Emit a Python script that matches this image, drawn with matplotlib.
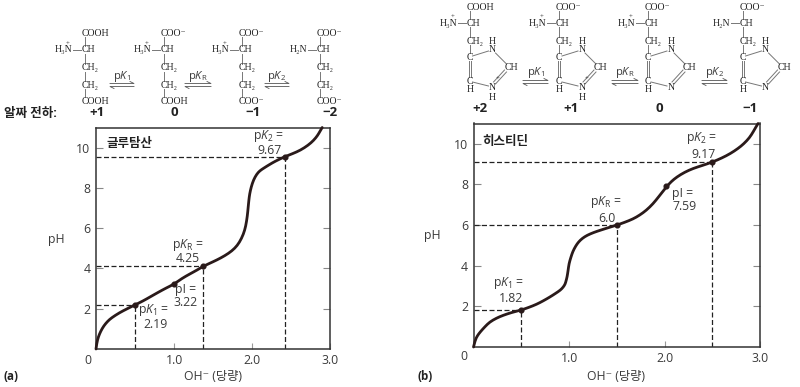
import matplotlib
matplotlib.use('Agg')
import matplotlib.pyplot as plt
from matplotlib.path import Path
from matplotlib.patches import PathPatch

plt.rcParams['font.family'] = ['Open Sans', 'Noto Sans CJK KR', 'DejaVu Sans']
plt.rcParams['mathtext.fontset'] = 'custom'
plt.rcParams['mathtext.rm'] = 'Open Sans'
plt.rcParams['mathtext.it'] = 'Open Sans:italic'

# titration curves
glu_x = [0, 0.01, 0.03, 0.06, 0.1, 0.15, 0.2, 0.3, 0.4, 0.5, 0.6, 0.7, 0.8, 0.9, 1.0, 1.1, 1.2, 1.3, 1.37, 1.5,
         1.6, 1.7, 1.78, 1.84, 1.89, 1.92, 1.94, 1.95, 1.96, 1.97, 1.99, 2.02, 2.06, 2.1, 2.15, 2.22, 2.3, 2.42,
         2.52, 2.62, 2.72, 2.79, 2.84, 2.87, 2.9]
glu_ph = [0, 0.3, 0.6, 0.88, 1.15, 1.38, 1.55, 1.8, 2.0, 2.19, 2.38, 2.6, 2.82, 3.03, 3.22, 3.5, 3.72, 3.93, 4.1,
          4.33, 4.52, 4.75, 5.0, 5.3, 5.7, 6.1, 6.6, 7.0, 7.4, 7.7, 8.05, 8.4, 8.68, 8.85, 8.98, 9.15, 9.33, 9.55,
          9.7, 9.87, 10.12, 10.36, 10.6, 10.8, 11.0]
his_x = [0, 0.017, 0.04, 0.07, 0.12, 0.17, 0.24, 0.31, 0.4, 0.5, 0.58, 0.66, 0.73, 0.8, 0.86, 0.91, 0.94, 0.96,
         0.97, 0.98, 0.99, 1.0, 1.02, 1.04, 1.07, 1.1, 1.14, 1.19, 1.26, 1.33, 1.41, 1.5, 1.58, 1.67, 1.74, 1.81,
         1.88, 1.94, 2.02, 2.07, 2.13, 2.21, 2.3, 2.4, 2.5, 2.6, 2.69, 2.77, 2.83, 2.89, 2.93, 2.96, 2.98]
his_ph = [0, 0.33, 0.55, 0.74, 1.0, 1.23, 1.42, 1.56, 1.7, 1.82, 1.95, 2.1, 2.27, 2.46, 2.64, 2.8, 2.95, 3.1,
          3.27, 3.45, 3.75, 4.1, 4.42, 4.7, 4.97, 5.17, 5.35, 5.5, 5.64, 5.75, 5.87, 6.0, 6.13, 6.3, 6.49, 6.73,
          7.05, 7.4, 7.88, 8.14, 8.37, 8.6, 8.79, 8.94, 9.1, 9.3, 9.52, 9.77, 10.0, 10.3, 10.6, 10.85, 11.0]

# points on the curves (x, pH) with dashed guides
glu_guides = [(0.5, 2.19), (1.37, 4.1), (2.42, 9.55)]
glu_pi = (1.0, 3.22)
his_guides = [(0.5, 1.82), (1.5, 6.0), (2.5, 9.12)]
his_pi = (2.02, 7.9)

x_ticks = [1.0, 2.0, 3.0]
x_labels = ['1.0', '2.0', '3.0']
y_ticks = [2, 4, 6, 8, 10]

W, H = 800, 387
fig = plt.figure(figsize=(W / 100, H / 100), dpi=100)

TXT = '#3a3a3a'
CURVE = '#2a1a1a'
SERIF = ['Liberation Serif', 'DejaVu Serif']
TICK_SIZE = 8.8


def smooth_curve(ax, x, y):
    # quadratic segments through the midpoints, so the read points do not show as corners
    verts = [(x[0], y[0])]
    codes = [Path.MOVETO]
    for i in range(1, len(x) - 1):
        verts += [(x[i], y[i]), ((x[i] + x[i + 1]) / 2, (y[i] + y[i + 1]) / 2)]
        codes += [Path.CURVE3, Path.CURVE3]
    verts.append((x[-1], y[-1]))
    codes.append(Path.LINETO)
    ax.add_patch(PathPatch(Path(verts, codes), fc='none', ec=CURVE, lw=2.0, capstyle='round',
                           joinstyle='round', clip_on=False, zorder=3))


def make_axes(left, right, top, bottom, x, y, guides, pi):
    ax = fig.add_axes([left / W, 1 - bottom / H, (right - left) / W, (bottom - top) / H])
    smooth_curve(ax, x, y)
    for gx, gy in guides:
        ax.plot([0, gx], [gy, gy], color='#222222', lw=0.9, ls=(0, (4, 2)))
        ax.plot([gx, gx], [0, gy], color='#222222', lw=0.9, ls=(0, (4, 2)))
    px = [g[0] for g in guides] + [pi[0]]
    py = [g[1] for g in guides] + [pi[1]]
    ax.plot(px, py, 'o', color=CURVE, ms=3.4, zorder=4)
    ax.set_xlim(0, 3)
    ax.set_ylim(0, 11)
    ax.set_xticks(x_ticks, x_labels)
    ax.set_yticks(y_ticks)
    ax.tick_params(axis='x', direction='in', length=4, width=0.8, color='#999999', labelsize=TICK_SIZE,
                   labelcolor=TXT, pad=3.5)
    ax.tick_params(axis='y', direction='in', length=5, width=0.8, color='#888888', labelsize=TICK_SIZE,
                   labelcolor=TXT, right=True, pad=4)
    for s in ax.spines.values():
        s.set_linewidth(1.1)
        s.set_color('#333333')
    return ax


make_axes(96, 330, 127.5, 349, glu_x, glu_ph, glu_guides, glu_pi)
make_axes(473.5, 760, 123.5, 347, his_x, his_ph, his_guides, his_pi)

# overlay in pixel coordinates for the labels and the structures
ov = fig.add_axes([0, 0, 1, 1], facecolor='none')
ov.set_xlim(0, W)
ov.set_ylim(H, 0)
ov.axis('off')


def label(x, y, s, size=TICK_SIZE, ha='center', weight='normal', color=TXT):
    ov.text(x, y, s, fontsize=size, ha=ha, va='center', color=color, fontweight=weight)


# panel text
for x, y, s in [(88, 360, '0'), (56, 239, 'pH'), (213, 377, 'OH⁻ (당량)'),
                (464, 356, '0'), (432, 236, 'pH'), (616, 377, 'OH⁻ (당량)')]:
    label(x, y, s)
label(4, 377, '(a)', ha='left', weight='bold', color='#222222', size=8.3)
label(417, 377, '(b)', ha='left', weight='bold', color='#222222', size=8.3)
label(106, 143, '글루탐산', ha='left', weight='bold', color='#222222', size=9)
label(482, 141, '히스티딘', ha='left', weight='bold', color='#222222', size=9)
label(4, 114, '알짜 전하:', ha='left', weight='bold', color='#222222', size=9)

for x, y, s in [(269, 136, 'p$K_2$ ='), (269, 150, '9.67'), (188, 245, 'p$K_{\\mathrm{R}}$ ='), (188, 259, '4.25'),
                (186, 289, 'pI ='), (186, 302, '3.22'), (154, 310, 'p$K_1$ ='), (155, 324, '2.19'),
                (702, 138, 'p$K_2$ ='), (704, 154, '9.17'), (606, 202, 'p$K_{\\mathrm{R}}$ ='), (607, 218, '6.0'),
                (683, 193, 'pI ='), (685, 207, '7.59'), (509, 283, 'p$K_1$ ='), (511, 299, '1.82')]:
    label(x, y, s)

# net charges
for x, s in [(97, '+1'), (174, '0'), (253, '−1'), (330, '−2')]:
    label(x, 113, s, size=9.5, weight='bold', color='#222222')
for x, s in [(480, '+2'), (571, '+1'), (659, '0'), (750, '−1')]:
    label(x, 109, s, size=9.5, weight='bold', color='#222222')


def chem(x, y, s, ha='left'):
    ov.text(x, y, s, fontsize=7, family=SERIF, ha=ha, va='center', color='#222222')


def bond(x0, y0, x1, y1):
    ov.plot([x0, x1], [y0, y1], color='#777777', lw=0.7)


def equilibrium(x0, x1, y, s):
    ov.plot([x0, x1, x1 - 4], [y - 1.5, y - 1.5, y - 3.5], color='#555555', lw=0.6)
    ov.plot([x1, x0, x0 + 4], [y + 1.5, y + 1.5, y + 3.5], color='#555555', lw=0.6)
    label((x0 + x1) / 2, y - 9, s, size=8)


def amine(x, y, s, charged):
    chem(x - 9.5, y, s, ha='right')
    bond(x - 9, y, x - 1, y)
    chem(x, y, 'CH')
    if charged:
        ov.text(x - 14, y - 5.5, '+', fontsize=5, family=SERIF, ha='center', va='center', color='#222222')


# glutamate chain
glu_tops = ['COOH', 'COO⁻', 'COO⁻', 'COO⁻']
glu_ends = ['COOH', 'COOH', 'COO⁻', 'COO⁻']
glu_amine = ['H₃N', 'H₃N', 'H₃N', 'H₂N']
for col, top, end, am in zip([82, 161, 239, 317], glu_tops, glu_ends, glu_amine):
    chem(col, 33, top)
    amine(col, 50, am, am == 'H₃N')
    chem(col, 68, 'CH₂')
    chem(col, 85, 'CH₂')
    chem(col, 101, end)
    for y0, y1 in [(37, 46), (54, 64), (72, 81), (89, 97)]:
        bond(col + 3, y0, col + 3, y1)
for x0, x1, s in [(110, 134, 'p$K_1$'), (185, 211, 'p$K_{\\mathrm{R}}$'), (265, 289, 'p$K_2$')]:
    equilibrium(x0, x1, 85, s)

# histidine ring
his_tops = ['COOH', 'COO⁻', 'COO⁻', 'COO⁻']
his_amine = ['H₃N', 'H₃N', 'H₃N', 'H₂N']
his_protons = [True, True, False, False]
for col, top, am, charged_n in zip([466.5, 556, 645, 739.5], his_tops, his_amine, his_protons):
    chem(col, 7, top)
    amine(col, 23, am, am == 'H₃N')
    chem(col, 41, 'CH₂')
    chem(col, 57, 'C')
    chem(col, 81, 'C')
    chem(col, 90, 'H')
    chem(col + 26, 41, 'H', ha='center')
    chem(col + 26, 50, 'N', ha='center')
    chem(col + 38, 68, 'CH')
    chem(col + 26, 87, 'N', ha='center')
    for y0, y1 in [(11, 19), (27, 37), (45, 53)]:
        bond(col + 3, y0, col + 3, y1)
    bond(col + 2, 61, col + 2, 77)
    bond(col + 4, 61, col + 4, 77)
    bond(col + 6, 56, col + 22, 51)
    bond(col + 29, 53, col + 40, 64)
    bond(col + 40, 72, col + 29, 84)
    bond(col + 38, 70, col + 27, 82)
    bond(col + 6, 82, col + 22, 86)
    if charged_n:
        chem(col + 26, 97, 'H', ha='center')
        ov.text(col + 31, 79, '+', fontsize=5, family=SERIF, ha='center', va='center', color='#222222')
for x0, x1, s in [(523, 548, 'p$K_1$'), (612, 638, 'p$K_{\\mathrm{R}}$'), (702, 727, 'p$K_2$')]:
    equilibrium(x0, x1, 82, s)

fig.savefig('out.png', dpi=100)
